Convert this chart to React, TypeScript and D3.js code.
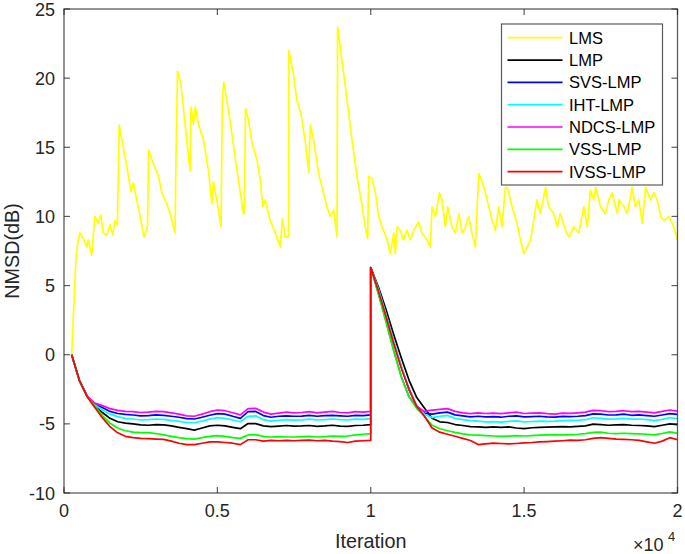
import React from 'react';
import * as d3 from 'd3';

// Iteration grid for the adaptive-filter curves (two halves, jump at 10000)
const firstIter: number[] = d3.range(250, 10001, 250);
const secondIter: number[] = d3.range(10000, 20001, 250);

// LMS (noisy) curve as [iteration, NMSD dB] pairs
const lmsPoints: [number, number][] = [
  [250, 0], [390, 7.0], [470, 8.4], [520, 8.8], [630, 8.4], [740, 7.8], [790, 8.3], [900, 7.2],
  [1010, 10.0], [1120, 9.5], [1200, 10.1], [1280, 8.8], [1390, 8.65], [1500, 9.4], [1590, 8.65],
  [1660, 9.7], [1740, 9.4], [1800, 16.6], [1930, 15.0], [2050, 13.6], [2180, 11.8], [2260, 12.4],
  [2420, 10.7], [2610, 8.5], [2720, 9.25], [2760, 14.8], [2910, 13.8], [3080, 12.9], [3190, 11.7],
  [3350, 10.9], [3460, 10.2], [3620, 8.8], [3650, 14.1], [3700, 20.5], [3810, 19.6], [3980, 16.0],
  [4110, 13.3], [4140, 17.9], [4220, 16.7], [4280, 17.9], [4380, 16.7], [4550, 15.5], [4710, 13.3],
  [4820, 10.9], [4870, 12.5], [4980, 11.2], [5120, 9.25], [5160, 18.2], [5210, 19.7], [5310, 18.4],
  [5470, 16.0], [5640, 13.3], [5850, 10.2], [5870, 10.2], [5920, 17.8], [6010, 17.0], [6130, 15.3],
  [6290, 14.1], [6400, 12.6], [6480, 10.7], [6560, 11.2], [6720, 9.7], [6890, 8.8], [7050, 7.8],
  [7120, 9.85], [7210, 8.5], [7320, 8.5], [7330, 22.0], [7480, 20.3], [7590, 18.4], [7720, 17.45],
  [7860, 15.5], [7980, 13.2], [8030, 16.6], [8140, 15.5], [8300, 13.1], [8460, 11.7], [8570, 10.7],
  [8680, 10.0], [8790, 10.45], [8900, 8.5], [8920, 23.7], [9060, 21.3], [9230, 18.4], [9390, 15.5],
  [9550, 12.9], [9710, 10.9], [9820, 9.25], [9900, 8.4], [9930, 12.9], [10040, 12.75], [10150, 11.7],
  [10260, 10.0], [10370, 9.25], [10530, 8.3], [10640, 7.3], [10750, 8.8], [10800, 7.3], [10860, 9.25],
  [10960, 9.0], [11070, 8.3], [11180, 9.0], [11290, 8.3], [11400, 9.0], [11560, 9.6], [11670, 8.8],
  [11840, 8.3], [11940, 7.8], [12000, 10.7], [12110, 10.0], [12240, 11.7], [12320, 11.2], [12430, 9.25],
  [12510, 10.7], [12650, 9.25], [12760, 8.8], [12870, 10.2], [12980, 8.8], [13090, 9.25], [13190, 10.0],
  [13300, 8.8], [13410, 7.8], [13520, 13.1], [13630, 12.5], [13740, 11.7], [13850, 10.7], [13960, 9.7],
  [14060, 9.0], [14170, 10.7], [14280, 9.25], [14390, 12.1], [14450, 12.1], [14610, 10.7], [14770, 9.5],
  [14880, 8.3], [14990, 7.3], [15100, 7.8], [15210, 8.3], [15420, 11.2], [15530, 10.2], [15700, 12.1],
  [15800, 10.7], [15970, 10.2], [16080, 9.25], [16180, 10.2], [16350, 9.0], [16460, 8.5], [16620, 9.25],
  [16780, 8.8], [16950, 10.7], [17060, 9.25], [17160, 11.9], [17270, 11.2], [17330, 12.1], [17490, 10.7],
  [17650, 10.2], [17760, 11.2], [17870, 11.7], [18040, 10.2], [18090, 11.2], [18250, 10.7], [18360, 10.2],
  [18520, 12.1], [18630, 10.7], [18740, 11.2], [18850, 9.5], [18960, 12.1], [19120, 11.2], [19230, 11.7],
  [19340, 11.2], [19450, 10.0], [19560, 9.7], [19720, 10.0], [19830, 9.5], [19940, 8.8], [20000, 8.3],
];

// LMP (black)
const lmpFirst = [0, -1.85, -2.98, -3.65, -4.18, -4.6, -4.85, -4.95, -5.0, -5.08, -5.1, -5.05, -5.08, -5.15,
  -5.25, -5.35, -5.45, -5.3, -5.15, -5.1, -5.15, -5.25, -5.35, -4.98, -4.98, -5.15, -5.2, -5.16, -5.12,
  -5.16, -5.15, -5.12, -5.18, -5.15, -5.1, -5.16, -5.18, -5.12, -5.1, -5.05];
const lmpSecond = [6.3, 4.9, 3.25, 1.45, -0.25, -1.85, -3.1, -3.85, -4.6, -4.85, -4.9, -5.05, -5.12, -5.2,
  -5.22, -5.25, -5.22, -5.25, -5.22, -5.3, -5.35, -5.28, -5.25, -5.24, -5.22, -5.2, -5.22, -5.18, -5.15,
  -5.02, -5.05, -5.1, -5.08, -5.05, -5.1, -5.12, -5.15, -5.2, -5.1, -5.0, -5.05];

// SVS-LMP (blue)
const svsFirst = [0, -1.85, -2.97, -3.58, -3.82, -4.1, -4.25, -4.32, -4.36, -4.42, -4.4, -4.35, -4.38, -4.45,
  -4.52, -4.62, -4.65, -4.52, -4.38, -4.26, -4.3, -4.45, -4.6, -4.12, -4.1, -4.4, -4.52, -4.45, -4.42,
  -4.45, -4.44, -4.38, -4.45, -4.4, -4.38, -4.42, -4.45, -4.38, -4.4, -4.35];
const svsSecond = [6.3, 4.7, 2.85, 0.9, -0.9, -2.55, -3.7, -4.22, -4.3, -4.2, -4.15, -4.35, -4.42, -4.5,
  -4.45, -4.5, -4.48, -4.52, -4.45, -4.42, -4.5, -4.48, -4.45, -4.5, -4.52, -4.46, -4.48, -4.45, -4.4,
  -4.28, -4.3, -4.36, -4.35, -4.3, -4.38, -4.35, -4.4, -4.45, -4.36, -4.26, -4.32];

// IHT-LMP (cyan)
const ihtFirst = [0, -1.85, -2.98, -3.62, -4.0, -4.3, -4.48, -4.6, -4.65, -4.72, -4.7, -4.65, -4.68, -4.75,
  -4.82, -4.9, -4.92, -4.8, -4.66, -4.55, -4.6, -4.72, -4.85, -4.45, -4.42, -4.7, -4.8, -4.75, -4.7,
  -4.73, -4.72, -4.66, -4.72, -4.7, -4.65, -4.7, -4.72, -4.66, -4.68, -4.62];
const ihtSecond = [6.3, 4.75, 2.9, 0.95, -0.85, -2.5, -3.7, -4.3, -4.55, -4.45, -4.4, -4.6, -4.7, -4.76,
  -4.8, -4.86, -4.84, -4.88, -4.82, -4.78, -4.86, -4.83, -4.8, -4.82, -4.8, -4.76, -4.75, -4.74, -4.7,
  -4.56, -4.6, -4.66, -4.64, -4.6, -4.66, -4.65, -4.7, -4.76, -4.68, -4.56, -4.62];

// NDCS-LMP (magenta)
const ndcsFirst = [0, -1.85, -2.95, -3.5, -3.68, -3.9, -4.02, -4.1, -4.12, -4.18, -4.15, -4.1, -4.12, -4.2,
  -4.3, -4.42, -4.45, -4.3, -4.12, -4.0, -4.05, -4.2, -4.35, -3.9, -3.88, -4.15, -4.3, -4.22, -4.15,
  -4.2, -4.18, -4.12, -4.2, -4.15, -4.1, -4.18, -4.2, -4.12, -4.15, -4.1];
const ndcsSecond = [6.3, 4.4, 2.4, 0.3, -1.6, -3.05, -3.75, -4.1, -4.0, -3.95, -3.9, -4.1, -4.2, -4.26,
  -4.2, -4.25, -4.22, -4.26, -4.2, -4.15, -4.25, -4.22, -4.2, -4.26, -4.3, -4.22, -4.24, -4.2, -4.15,
  -4.02, -4.05, -4.12, -4.1, -4.05, -4.12, -4.1, -4.15, -4.2, -4.1, -4.0, -4.08];

// VSS-LMP (green)
const vssFirst = [0, -1.85, -3.0, -3.7, -4.4, -4.95, -5.3, -5.5, -5.6, -5.63, -5.64, -5.7, -5.8, -5.9,
  -6.0, -6.07, -6.1, -6.0, -5.9, -5.85, -5.9, -6.0, -6.05, -5.8, -5.78, -5.9, -5.95, -5.92, -5.95,
  -5.95, -5.93, -5.9, -5.95, -5.92, -5.88, -5.9, -5.88, -5.8, -5.75, -5.7];
const vssSecond = [6.3, 4.4, 2.35, 0.25, -1.65, -3.05, -3.9, -4.45, -5.1, -5.35, -5.5, -5.62, -5.72, -5.8,
  -5.82, -5.85, -5.88, -5.9, -5.88, -5.85, -5.88, -5.85, -5.82, -5.8, -5.78, -5.8, -5.78, -5.75, -5.7,
  -5.62, -5.6, -5.68, -5.7, -5.68, -5.7, -5.72, -5.75, -5.8, -5.7, -5.58, -5.68];

// IVSS-LMP (red)
const ivssFirst = [0, -1.85, -3.02, -3.8, -4.55, -5.2, -5.65, -5.9, -6.0, -6.05, -6.07, -6.1, -6.12, -6.25,
  -6.4, -6.5, -6.5, -6.4, -6.3, -6.3, -6.35, -6.4, -6.5, -6.15, -6.15, -6.25, -6.2, -6.22, -6.2,
  -6.22, -6.2, -6.18, -6.22, -6.2, -6.25, -6.28, -6.35, -6.25, -6.22, -6.2];
const ivssSecond = [6.3, 4.6, 2.75, 0.8, -1.0, -2.5, -3.75, -4.45, -5.3, -5.6, -5.75, -5.9, -6.05, -6.2,
  -6.5, -6.45, -6.4, -6.42, -6.45, -6.42, -6.38, -6.35, -6.3, -6.28, -6.25, -6.22, -6.18, -6.2, -6.15,
  -6.05, -6.0, -6.05, -6.1, -6.12, -6.15, -6.2, -6.3, -6.4, -6.25, -6.0, -6.15];

const seriesNames = ['LMS', 'LMP', 'SVS-LMP', 'IHT-LMP', 'NDCS-LMP', 'VSS-LMP', 'IVSS-LMP'];
const seriesColors = ['#ffff00', '#000000', '#0000ff', '#00ffff', '#ff00ff', '#00ff00', '#ff0000'];

const xTicks = [0, 5000, 10000, 15000, 20000];
const xTickLabels = ['0', '0.5', '1', '1.5', '2'];
const yTicks = [-10, -5, 0, 5, 10, 15, 20, 25];

const FONT = '"Liberation Sans", Arial, Helvetica, sans-serif';
const AXIS = '#262626';

export default function App() {
  const x = d3.scaleLinear().domain([0, 20000]).range([64, 677.5]);
  const y = d3.scaleLinear().domain([-10, 25]).range([493, 9]);
  const line = d3.line<[number, number]>().x((d) => x(d[0])).y((d) => y(d[1]));

  const grid = [...firstIter, ...secondIter];
  const build = (a: number[], b: number[]): [number, number][] =>
    [...a, ...b].map((v, i) => [grid[i], v] as [number, number]);

  const curves: [number, number][][] = [
    lmsPoints,
    build(lmpFirst, lmpSecond),
    build(svsFirst, svsSecond),
    build(ihtFirst, ihtSecond),
    build(ndcsFirst, ndcsSecond),
    build(vssFirst, vssSecond),
    build(ivssFirst, ivssSecond),
  ];

  const [x0, x1] = x.range();
  const [yb, yt] = y.range();
  const tick = 6;

  const legX = 501.5, legY = 24, legW = 161, legH = 161;
  const rowH = 22.33;

  return (
    <svg width={685} height={554} style={{ position: 'absolute', left: 0, top: 0, background: '#fff' }}
      fontFamily={FONT}>
      <rect x={0} y={0} width={685} height={554} fill="#fff" />
      <defs>
        <clipPath id="plotclip">
          <rect x={x0} y={yt} width={x1 - x0} height={yb - yt} />
        </clipPath>
      </defs>
      <g clipPath="url(#plotclip)">
        {curves.map((c, i) => (
          <path key={i} d={line(c) || ''} fill="none" stroke={seriesColors[i]} strokeWidth={1.7}
            strokeLinejoin="round" />
        ))}
      </g>
      {/* box */}
      <rect x={x0} y={yt} width={x1 - x0} height={yb - yt} fill="none" stroke={AXIS} strokeOpacity={0.75} strokeWidth={1.3} />
      {/* x ticks */}
      {xTicks.map((t, i) => (
        <g key={'x' + i}>
          <line x1={x(t)} x2={x(t)} y1={yb} y2={yb - tick} stroke={AXIS} strokeOpacity={0.75} strokeWidth={1.2} />
          <line x1={x(t)} x2={x(t)} y1={yt} y2={yt + tick} stroke={AXIS} strokeOpacity={0.75} strokeWidth={1.2} />
          <text x={x(t)} y={517} textAnchor="middle" fontSize={18} fill={AXIS}>{xTickLabels[i]}</text>
        </g>
      ))}
      {/* y ticks */}
      {yTicks.map((t) => (
        <g key={'y' + t}>
          <line x1={x0} x2={x0 + tick} y1={y(t)} y2={y(t)} stroke={AXIS} strokeOpacity={0.75} strokeWidth={1.2} />
          <line x1={x1} x2={x1 - tick} y1={y(t)} y2={y(t)} stroke={AXIS} strokeOpacity={0.75} strokeWidth={1.2} />
          <text x={55} y={y(t) + 6.5} textAnchor="end" fontSize={18} fill={AXIS}>{t}</text>
        </g>
      ))}
      {/* exponent */}
      <text x={633} y={551} fontSize={18} fill={AXIS}>×10</text>
      <text x={668} y={541} fontSize={13} fill={AXIS}>4</text>
      {/* axis labels */}
      <text x={(x0 + x1) / 2} y={548} textAnchor="middle" fontSize={19.8} fill={AXIS}>Iteration</text>
      <text transform={`translate(19, ${(yb + yt) / 2}) rotate(-90)`} textAnchor="middle" fontSize={19.8} fill={AXIS}>NMSD(dB)</text>
      {/* legend */}
      <rect x={legX} y={legY} width={legW} height={legH} fill="#fff" stroke={AXIS} strokeOpacity={0.75} strokeWidth={1.2} />
      {seriesNames.map((n, i) => {
        const cy = legY + 13.7 + i * rowH;
        return (
          <g key={n}>
            <line x1={legX + 6} x2={legX + 61} y1={cy} y2={cy} stroke={seriesColors[i]} strokeWidth={1.7} />
            <text x={legX + 67.5} y={cy + 6} fontSize={16.5} fill="#000">{n}</text>
          </g>
        );
      })}
    </svg>
  );
}
